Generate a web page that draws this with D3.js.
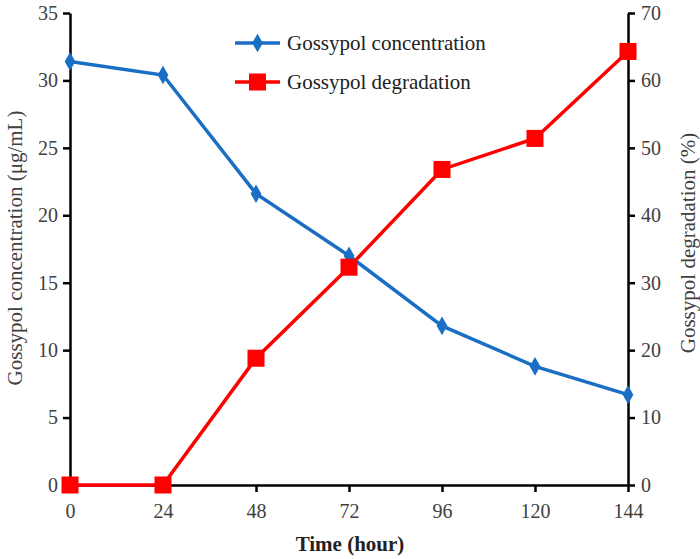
<!DOCTYPE html>
<html>
<head>
<meta charset="utf-8">
<script src="https://cdn.jsdelivr.net/npm/d3@7/dist/d3.min.js"></script>
<style>
body { margin:0; background:#fff; }
svg text { font-family:"Liberation Serif","Times New Roman",serif; }
</style>
</head>
<body>
<svg id="chart" width="700" height="559"></svg>
<script>
var hours = [0, 24, 48, 72, 96, 120, 144];
var concentration = [31.4, 30.4, 21.6, 17.0, 11.8, 8.8, 6.7];
var degradation = [0, 0, 18.8, 32.3, 46.8, 51.4, 64.3];
var leftTicks = [0, 5, 10, 15, 20, 25, 30, 35];
var rightTicks = [0, 10, 20, 30, 40, 50, 60, 70];

var svg = d3.select("#chart");
var plotLeft = 70, plotRight = 628, plotTop = 13, plotBottom = 485;

var x = d3.scaleLinear().domain([0, 144]).range([plotLeft, plotRight]);
var yL = d3.scaleLinear().domain([0, 35]).range([plotBottom, plotTop]);
var yR = d3.scaleLinear().domain([0, 70]).range([plotBottom, plotTop]);

function styleAxis(g){
    g.select(".domain").attr("stroke","#000").attr("stroke-width",2.5);
    g.selectAll(".tick line").attr("stroke","#000").attr("stroke-width",2.5);
    g.selectAll(".tick text")
        .style("font-family","Liberation Serif")
        .style("font-size","20px")
        .attr("fill","#404040");
}

svg.append("g")
    .attr("transform","translate(0,"+plotBottom+")")
    .call(d3.axisBottom(x).tickValues(hours).tickSize(7).tickSizeOuter(0).tickPadding(12))
    .call(styleAxis);

svg.append("g")
    .attr("transform","translate("+plotLeft+",0)")
    .call(d3.axisLeft(yL).tickValues(leftTicks).tickSize(7).tickSizeOuter(0).tickPadding(5))
    .call(styleAxis);

svg.append("g")
    .attr("transform","translate("+plotRight+",0)")
    .call(d3.axisRight(yR).tickValues(rightTicks).tickSize(7).tickSizeOuter(0).tickPadding(6))
    .call(styleAxis);

// lines
var blue = "#1a6fc4", red = "#ff0000";

svg.append("path")
    .datum(hours)
    .attr("fill","none").attr("stroke",red).attr("stroke-width",3.5)
    .attr("d", d3.line().x(function(d){ return x(d); }).y(function(d,i){ return yR(degradation[i]); }));

svg.append("path")
    .datum(hours)
    .attr("fill","none").attr("stroke",blue).attr("stroke-width",3.5)
    .attr("d", d3.line().x(function(d){ return x(d); }).y(function(d,i){ return yL(concentration[i]); }));

svg.selectAll(".dia").data(hours).enter().append("path")
    .attr("class","dia")
    .attr("fill",blue)
    .attr("d", d3.symbol().type(d3.symbolDiamond).size(100))
    .attr("transform",function(d,i){ return "translate("+x(d)+","+yL(concentration[i])+")"; });

svg.selectAll(".sq").data(hours).enter().append("rect")
    .attr("class","sq")
    .attr("fill",red)
    .attr("width",17).attr("height",17)
    .attr("x",function(d){ return x(d)-8.5; })
    .attr("y",function(d,i){ return yR(degradation[i])-8.5; });

// legend
var legend = [
    {name:"Gossypol concentration", color:blue, y:43, mark:"dia"},
    {name:"Gossypol degradation", color:red, y:82, mark:"sq"}
];
legend.forEach(function(l){
    svg.append("line").attr("x1",235).attr("x2",280).attr("y1",l.y).attr("y2",l.y)
        .attr("stroke",l.color).attr("stroke-width",3.5);
    if(l.mark=="dia"){
        svg.append("path").attr("fill",l.color)
            .attr("d", d3.symbol().type(d3.symbolDiamond).size(100))
            .attr("transform","translate(257.5,"+l.y+")");
    } else {
        svg.append("rect").attr("fill",l.color).attr("width",17).attr("height",17)
            .attr("x",249).attr("y",l.y-8.5);
    }
    svg.append("text").attr("x",287).attr("y",l.y+7)
        .style("font-size","21px").attr("fill","#222")
        .text(l.name);
});

// axis titles
svg.append("text")
    .attr("transform","translate(22,248) rotate(-90)")
    .attr("text-anchor","middle")
    .style("font-size","21px").attr("fill","#404040")
    .text("Gossypol concentration (μg/mL)");

svg.append("text")
    .attr("transform","translate(695,243) rotate(-90)")
    .attr("text-anchor","middle")
    .style("font-size","21px").attr("fill","#404040")
    .text("Gossypol degradation (%)");

svg.append("text")
    .attr("x",350).attr("y",551)
    .attr("text-anchor","middle")
    .style("font-size","21px").style("font-weight","bold").attr("fill","#222")
    .text("Time (hour)");
</script>
</body>
</html>
